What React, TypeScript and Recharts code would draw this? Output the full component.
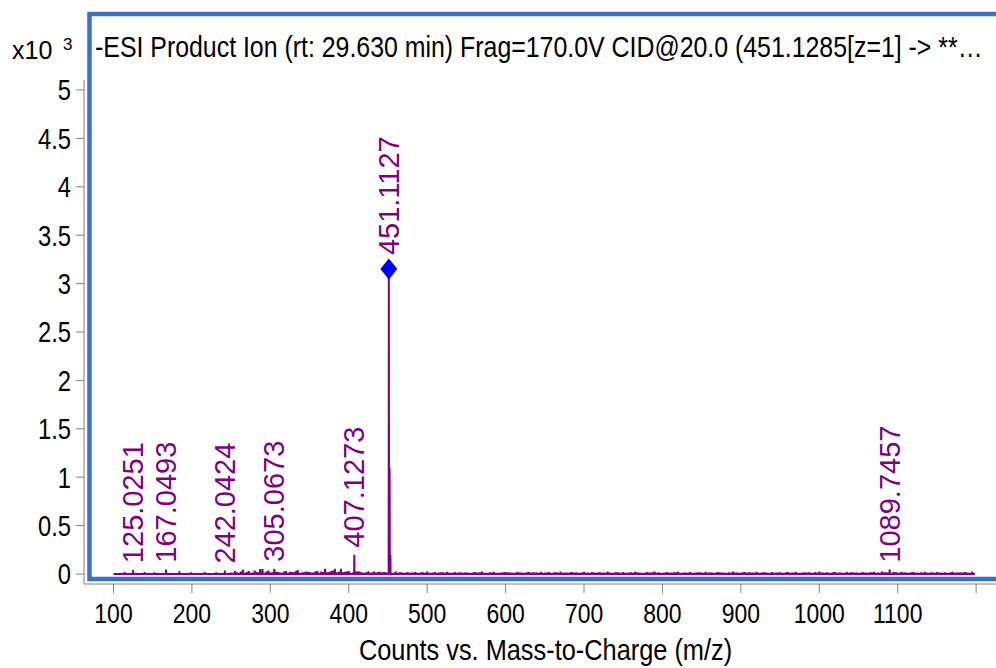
import React from "react";
import { ComposedChart, Line, Scatter, XAxis, YAxis, ReferenceArea } from "recharts";

const FONT = "'Liberation Sans', Arial, sans-serif";
const SQUEEZE = 0.82; // the original uses a narrow face
const PURPLE = "#800080";
const FRAME_BLUE = "#3a70c6";
const AXIS_GRAY = "#7f7f7f";

const xTicks = [100, 200, 300, 400, 500, 600, 700, 800, 900, 1000, 1100, 1200];
const yTicks = [0, 500, 1000, 1500, 2000, 2500, 3000, 3500, 4000, 4500, 5000];

// annotated fragment ions (m/z, counts)
const labeledPeaks = [
  { mz: 125.0251, counts: 40 },
  { mz: 167.0493, counts: 45 },
  { mz: 242.0424, counts: 35 },
  { mz: 305.0673, counts: 55 },
  { mz: 407.1273, counts: 200 },
  { mz: 1089.7457, counts: 45 },
];

// precursor, drawn with the blue diamond
const precursor = [{ mz: 451.1127, counts: 3150 }];

const isotopePeaks = [
  { mz: 452.11, counts: 1090 },
  { mz: 453.11, counts: 200 },
];

const minorPeaks = [
  { mz: 114, counts: 20 },
  { mz: 139.7, counts: 20 },
  { mz: 152.4, counts: 18 },
  { mz: 184, counts: 28 },
  { mz: 199, counts: 18 },
  { mz: 216, counts: 20 },
  { mz: 231, counts: 18 },
  { mz: 287, counts: 50 },
  { mz: 369.6, counts: 55 },
  { mz: 382.3, counts: 55 },
];

// baseline noise every 5 m/z from 250 to 1195
const noiseStart = 250;
const noiseStep = 5;
const noiseCounts = [
  15, 30, 12, 45, 20, 10, 35, 18, 50, 25, 15, 28, 20, 12, 30, 22, 18, 40, 15, 25,
  20, 15, 30, 25, 45, 20, 35, 18, 55, 22, 30, 15, 25, 20, 12, 28, 18, 15, 22, 20,
  10, 15, 25, 18, 12, 20, 15, 22, 10, 18, 25, 12, 20, 15, 18, 22, 12, 20, 15, 10,
  18, 12, 20, 15, 25, 10, 18, 22, 12, 15, 20, 18, 10, 22, 15, 12, 20, 18, 15, 22,
  15, 20, 12, 18, 25, 15, 10, 20, 18, 12, 22, 15, 18, 10, 20, 15, 25, 12, 18, 15,
  20, 12, 18, 22, 15, 10, 20, 15, 25, 18, 12, 20, 15, 18, 22, 10, 15, 20, 12, 18,
  15, 22, 18, 12, 20, 15, 10, 18, 25, 15, 12, 20, 18, 15, 22, 12, 18, 10, 20, 15,
  18, 12, 20, 15, 22, 10, 18, 15, 12, 20, 25, 15, 18, 12, 20, 15, 10, 22, 18, 15,
  12, 20, 15, 18, 22, 15, 25, 18, 30, 20, 15, 22, 18, 12, 20, 15, 18, 22, 12, 15,
  20, 15, 18, 12, 22, 15, 18, 20, 12, 25,
];
// second, in-between noise row (252.5, 257.5, ...)
const noiseStartB = 252.5;
const noiseCountsB = [
  10, 18, 25, 12, 30, 15, 20, 28, 12, 35, 18, 22, 15, 25, 10, 20, 30, 12, 18, 22,
  15, 25, 12, 20, 18, 30, 14, 22, 16, 25, 12, 20, 28, 15, 18, 12, 25, 20, 15, 18,
  12, 14, 10, 16, 12, 10, 14, 12, 16, 10, 12, 14, 10, 16, 12, 14, 10, 12, 16, 14,
  12, 10, 14, 16, 10, 12, 14, 12, 10, 16, 14, 12, 10, 14, 12, 16, 10, 14, 12, 10,
  14, 12, 16, 10, 12, 14, 16, 12, 10, 14, 12, 10, 16, 14, 12, 10, 14, 12, 16, 12,
  10, 14, 12, 16, 12, 10, 14, 16, 12, 10, 12, 14, 10, 16, 12, 14, 12, 10, 14, 16,
  12, 10, 14, 12, 16, 14, 10, 12, 14, 10, 16, 12, 14, 10, 12, 16, 14, 12, 10, 14,
  12, 16, 10, 14, 12, 10, 14, 16, 12, 10, 14, 12, 10, 16, 12, 14, 10, 12, 16, 14,
  10, 14, 12, 16, 10, 12, 18, 14, 12, 16, 10, 14, 12, 16, 12, 10, 14, 12, 16, 10,
  14, 12, 10, 16, 12, 14, 10, 16, 12,
];

const mainPeaks = [...labeledPeaks, ...precursor, ...isotopePeaks];
const noisePeaks = [
  ...noiseCounts.map((c, i) => ({ mz: noiseStart + i * noiseStep, counts: c })),
  ...noiseCountsB.map((c, i) => ({ mz: noiseStartB + i * noiseStep, counts: c })),
].filter((n) => !mainPeaks.some((p) => Math.abs(p.mz - n.mz) < 2));

const sticks = [...mainPeaks, ...minorPeaks, ...noisePeaks].sort((a, b) => a.mz - b.mz);
const spectrum: { mz: number; counts: number }[] = [{ mz: 100, counts: 0 }];
sticks.forEach((s) => {
  spectrum.push({ mz: s.mz - 0.25, counts: 0 });
  spectrum.push({ mz: s.mz, counts: s.counts });
  spectrum.push({ mz: s.mz + 0.25, counts: 0 });
});
spectrum.push({ mz: 1198.5, counts: 0 });

function PeakText({ cx, y, text }: { cx: number; y: number; text: string }) {
  return (
    <text
      x={cx}
      y={y}
      transform={`rotate(-90 ${cx} ${y})`}
      fill={PURPLE}
      fontFamily={FONT}
      fontSize={29}
      dominantBaseline="central"
    >
      {text}
    </text>
  );
}

function PeakLabel(props: any) {
  const { cx, cy, payload } = props;
  return <PeakText cx={cx} y={cy - 7} text={payload.mz.toFixed(4)} />;
}

function PrecursorMark(props: any) {
  const { cx, cy, payload } = props;
  return (
    <g>
      <polygon
        points={`${cx},${cy - 10.5} ${cx + 8.5},${cy} ${cx},${cy + 10.5} ${cx - 8.5},${cy}`}
        fill="#0000ff"
      />
      <PeakText cx={cx} y={cy - 14} text={payload.mz.toFixed(4)} />
    </g>
  );
}

function XTick(props: any) {
  const { x, y, payload } = props;
  if (payload.value === 1200) return null;
  return (
    <text
      transform={`translate(${x},${y}) scale(${SQUEEZE},1)`}
      textAnchor="middle"
      dy="0.71em"
      fill="#000"
      fontFamily={FONT}
      fontSize={28}
    >
      {payload.value}
    </text>
  );
}

function YTick(props: any) {
  const { x, y, payload } = props;
  return (
    <text
      transform={`translate(${x},${y}) scale(${SQUEEZE},1)`}
      textAnchor="end"
      dy="0.355em"
      fill="#000"
      fontFamily={FONT}
      fontSize={29}
    >
      {payload.value / 1000}
    </text>
  );
}

export default function App() {
  return (
    <div style={{ position: "absolute", left: 0, top: 0, width: 996, height: 668, overflow: "hidden", background: "#fff" }}>
      <ComposedChart width={1010} height={668} margin={{ top: 80, right: 5, bottom: 0, left: 0 }}>
        <ReferenceArea
          x1={69.4}
          x2={1300}
          y1={-51.7}
          y2={5785}
          ifOverflow="visible"
          fill="none"
          stroke={FRAME_BLUE}
          strokeWidth={4.5}
        />
        <XAxis
          type="number"
          dataKey="mz"
          domain={[62.4, 1236.8]}
          allowDataOverflow
          ticks={xTicks}
          height={84}
          stroke={AXIS_GRAY}
          tickSize={9}
          tickMargin={10}
          tick={<XTick />}
        />
        <YAxis
          type="number"
          domain={[-103.3, 5103.3]}
          allowDataOverflow
          ticks={yTicks}
          width={84}
          stroke={AXIS_GRAY}
          tickSize={8}
          tickMargin={5}
          tick={<YTick />}
        />
        <Line
          data={spectrum}
          dataKey="counts"
          type="linear"
          stroke={PURPLE}
          strokeWidth={2}
          dot={false}
          activeDot={false}
          isAnimationActive={false}
        />
        <Scatter data={labeledPeaks} dataKey="counts" shape={(p: any) => <PeakLabel {...p} />} isAnimationActive={false} />
        <Scatter data={precursor} dataKey="counts" shape={(p: any) => <PrecursorMark {...p} />} isAnimationActive={false} />
      </ComposedChart>
      <svg width={996} height={668} style={{ position: "absolute", left: 0, top: 0, pointerEvents: "none" }}>
        <text x={12} y={59} fontFamily={FONT} fontSize={25} fill="#000">
          x10
        </text>
        <text x={63} y={50} fontFamily={FONT} fontSize={17} fill="#000">
          3
        </text>
        <text transform="translate(95,56.5) scale(0.83,1)" fontFamily={FONT} fontSize={30} fill="#000">
          -ESI Product Ion (rt: 29.630 min) Frag=170.0V CID@20.0 (451.1285[z=1] -&gt; **…
        </text>
        <text transform="translate(545.5,660) scale(0.845,1)" fontFamily={FONT} fontSize={30} fill="#000" textAnchor="middle">
          Counts vs. Mass-to-Charge (m/z)
        </text>
      </svg>
    </div>
  );
}
